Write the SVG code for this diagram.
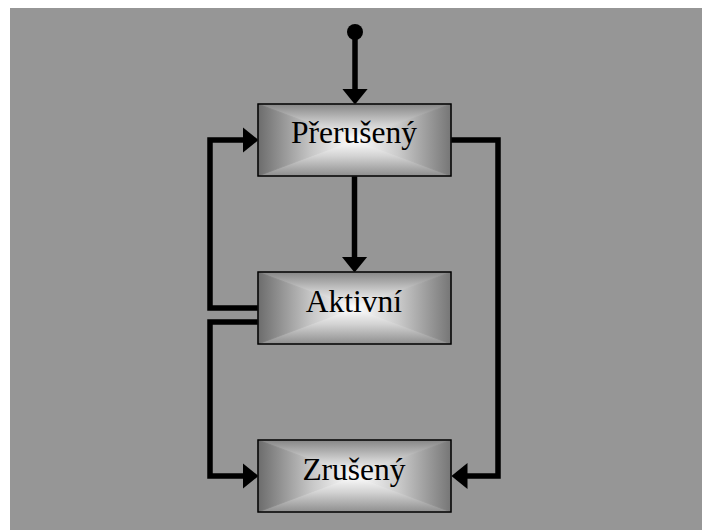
<svg xmlns="http://www.w3.org/2000/svg" xmlns:xlink="http://www.w3.org/1999/xlink" width="702" height="530" viewBox="0 0 702 530">
  <style>
    .lbl { font-family: "Liberation Serif", "Times New Roman", serif; font-size: 31.5px; fill: #000; text-anchor: middle; }
    .conn { fill: none; stroke: #000; stroke-width: 5.5; stroke-linejoin: miter; stroke-linecap: butt; }
    .frame { fill: none; stroke: #000; stroke-width: 1.5; }
  </style>
  <defs>
    <linearGradient id="gTop" x1="0" y1="0" x2="0" y2="1"><stop offset="0" stop-color="#868686"/><stop offset="0.55" stop-color="#cfcfcf"/><stop offset="1" stop-color="#ffffff"/></linearGradient>
    <linearGradient id="gBottom" x1="0" y1="0" x2="0" y2="1"><stop offset="0" stop-color="#ffffff"/><stop offset="0.45" stop-color="#d3d3d3"/><stop offset="1" stop-color="#8e8e8e"/></linearGradient>
    <linearGradient id="gLeft" x1="0" y1="0" x2="1" y2="0"><stop offset="0" stop-color="#6c6c6c"/><stop offset="0.55" stop-color="#c6c6c6"/><stop offset="1" stop-color="#ffffff"/></linearGradient>
    <linearGradient id="gRight" x1="0" y1="0" x2="1" y2="0"><stop offset="0" stop-color="#ffffff"/><stop offset="0.45" stop-color="#cbcbcb"/><stop offset="1" stop-color="#767676"/></linearGradient>
    <g id="box">
      <rect x="0" y="0" width="193" height="72" fill="#bdbdbd"/>
      <polygon points="0,0 193,0 96.5,36" fill="url(#gTop)" stroke="url(#gTop)" stroke-width="0.8"/>
      <polygon points="0,72 193,72 96.5,36" fill="url(#gBottom)" stroke="url(#gBottom)" stroke-width="0.8"/>
      <polygon points="0,0 0,72 96.5,36" fill="url(#gLeft)" stroke="url(#gLeft)" stroke-width="0.8"/>
      <polygon points="193,0 193,72 96.5,36" fill="url(#gRight)" stroke="url(#gRight)" stroke-width="0.8"/>
      <rect class="frame" x="0" y="0" width="193" height="72"/>
    </g>
    <marker id="arr" viewBox="0 0 16 26" refX="0.5" refY="13" markerWidth="16" markerHeight="26" markerUnits="userSpaceOnUse" orient="auto">
      <path d="M0,0 L16,13 L0,26 Z" fill="#000"/>
    </marker>
  </defs>
  <rect x="0" y="0" width="702" height="530" fill="#ffffff"/>
  <rect x="10" y="8" width="692" height="522" fill="#969696"/>

  <g id="connectors">
    <circle cx="355" cy="32" r="8" fill="#000"/>
    <path class="conn" d="M355,32 L355,89" marker-end="url(#arr)"/>
    <path class="conn" d="M354.5,176 L354.5,257" marker-end="url(#arr)"/>
    <path class="conn" d="M259,308 L210,308 L210,140 L243,140" marker-end="url(#arr)"/>
    <path class="conn" d="M261,322 L210,322 L210,476 L243,476" marker-end="url(#arr)"/>
    <path class="conn" d="M451,140 L498,140 L498,476 L467,476" marker-end="url(#arr)"/>
  </g>

  <g id="node-prerušeny">
    <use xlink:href="#box" x="258" y="104"/>
    <text class="lbl" x="354" y="143">Přerušený</text>
  </g>
  <g id="node-aktivni">
    <use xlink:href="#box" x="258" y="272"/>
    <text class="lbl" x="354" y="312">Aktivní</text>
  </g>
  <g id="node-zruseny">
    <use xlink:href="#box" x="258" y="440"/>
    <text class="lbl" x="354" y="480">Zrušený</text>
  </g>
</svg>
